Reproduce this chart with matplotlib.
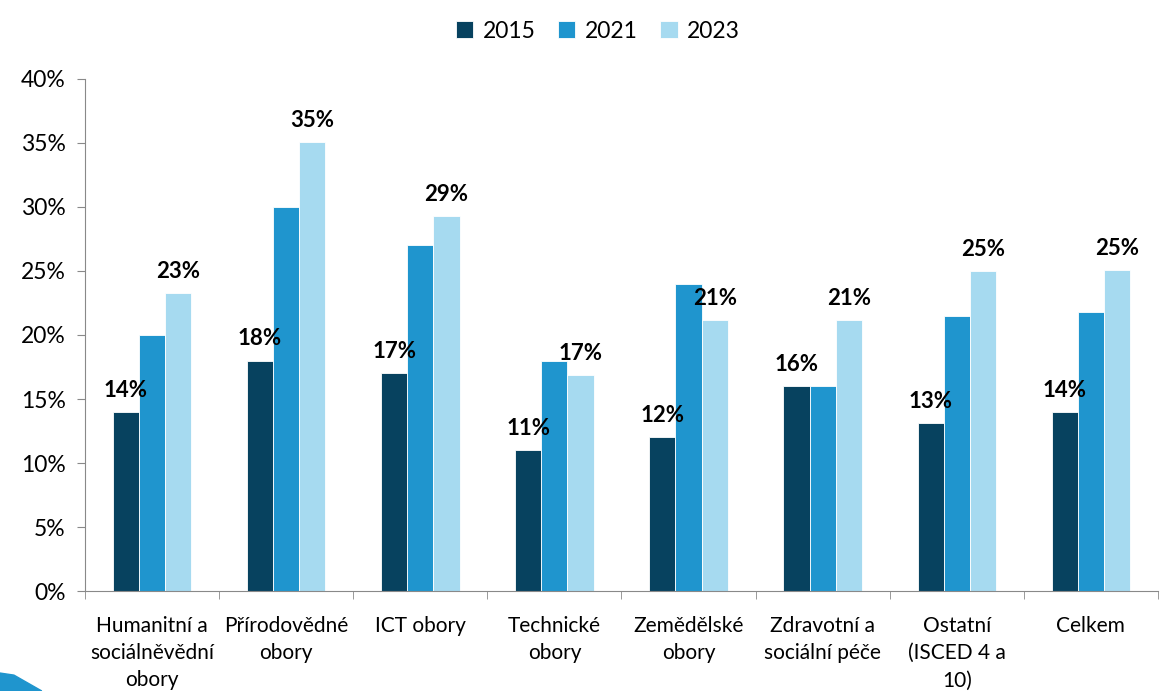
import numpy as np
import matplotlib.pyplot as plt
from matplotlib.patches import Polygon

plt.rcParams['font.family'] = ['Lato', 'DejaVu Sans']

categories = ["Humanitní a\nsociálněvědní\nobory", "Přírodovědné\nobory", "ICT obory",
              "Technické\nobory", "Zemědělské\nobory", "Zdravotní a\nsociální péče",
              "Ostatní\n(ISCED 4 a\n10)", "Celkem"]
years = ["2015", "2021", "2023"]
v2015 = [14.0, 18.0, 17.0, 11.0, 12.0, 16.0, 13.1, 14.0]
v2021 = [20.0, 30.0, 27.0, 18.0, 24.0, 16.0, 21.5, 21.8]
v2023 = [23.3, 35.1, 29.3, 16.9, 21.2, 21.2, 25.0, 25.1]
colors = ["#07425F", "#1F95CE", "#A6DAF0"]

fig = plt.figure(figsize=(11.61, 6.91), dpi=100)
ax = fig.add_axes([0.0732, 0.1447, 0.9242, 0.741])

x = np.arange(len(categories))
w = 0.195
series = [v2015, v2021, v2023]
for i, (vals, c, yr) in enumerate(zip(series, colors, years)):
    bars = ax.bar(x + (i - 1) * w, vals, w, color=c, label=yr,
                  edgecolor='white', linewidth=0.6)
    if i != 1:
        for b, v in zip(bars, vals):
            ax.annotate(f"{round(v):.0f}%", (b.get_x() + b.get_width() / 2, v),
                        xytext=(0, 8), textcoords='offset points',
                        ha='center', va='bottom', fontsize=16, fontweight='bold')

ax.set_xlim(-0.5, len(categories) - 0.5)
ax.set_ylim(0, 40)
ax.set_yticks(np.arange(0, 41, 5))
ax.set_yticklabels([f"{t}%" for t in range(0, 41, 5)], fontsize=16.5)
ax.set_xticks(x)
ax.set_xticklabels(categories, fontsize=15, va='top', linespacing=1.45)
ax.tick_params(axis='x', length=0, pad=18)
ax.set_xticks(np.arange(-0.5, len(categories)), minor=True)
ax.tick_params(axis='x', which='minor', length=6, color='#898989')
ax.tick_params(axis='y', length=6, color='#898989', pad=8)
for s in ['top', 'right']:
    ax.spines[s].set_visible(False)
for s in ['left', 'bottom']:
    ax.spines[s].set_color('#898989')

fig.legend(loc='upper center', bbox_to_anchor=(0.515, 1.0), ncol=3, frameon=False,
           fontsize=16.5, handlelength=0.75, handleheight=0.75, columnspacing=1.0,
           handletextpad=0.4)

# decorative swoosh in corner
fig.patches.append(Polygon([(0, 0), (0, 0.026), (0.012, 0.023), (0.036, 0)],
                           closed=True, transform=fig.transFigure,
                           color='#1F95CE', zorder=0))

fig.savefig("out.png", dpi=100)
